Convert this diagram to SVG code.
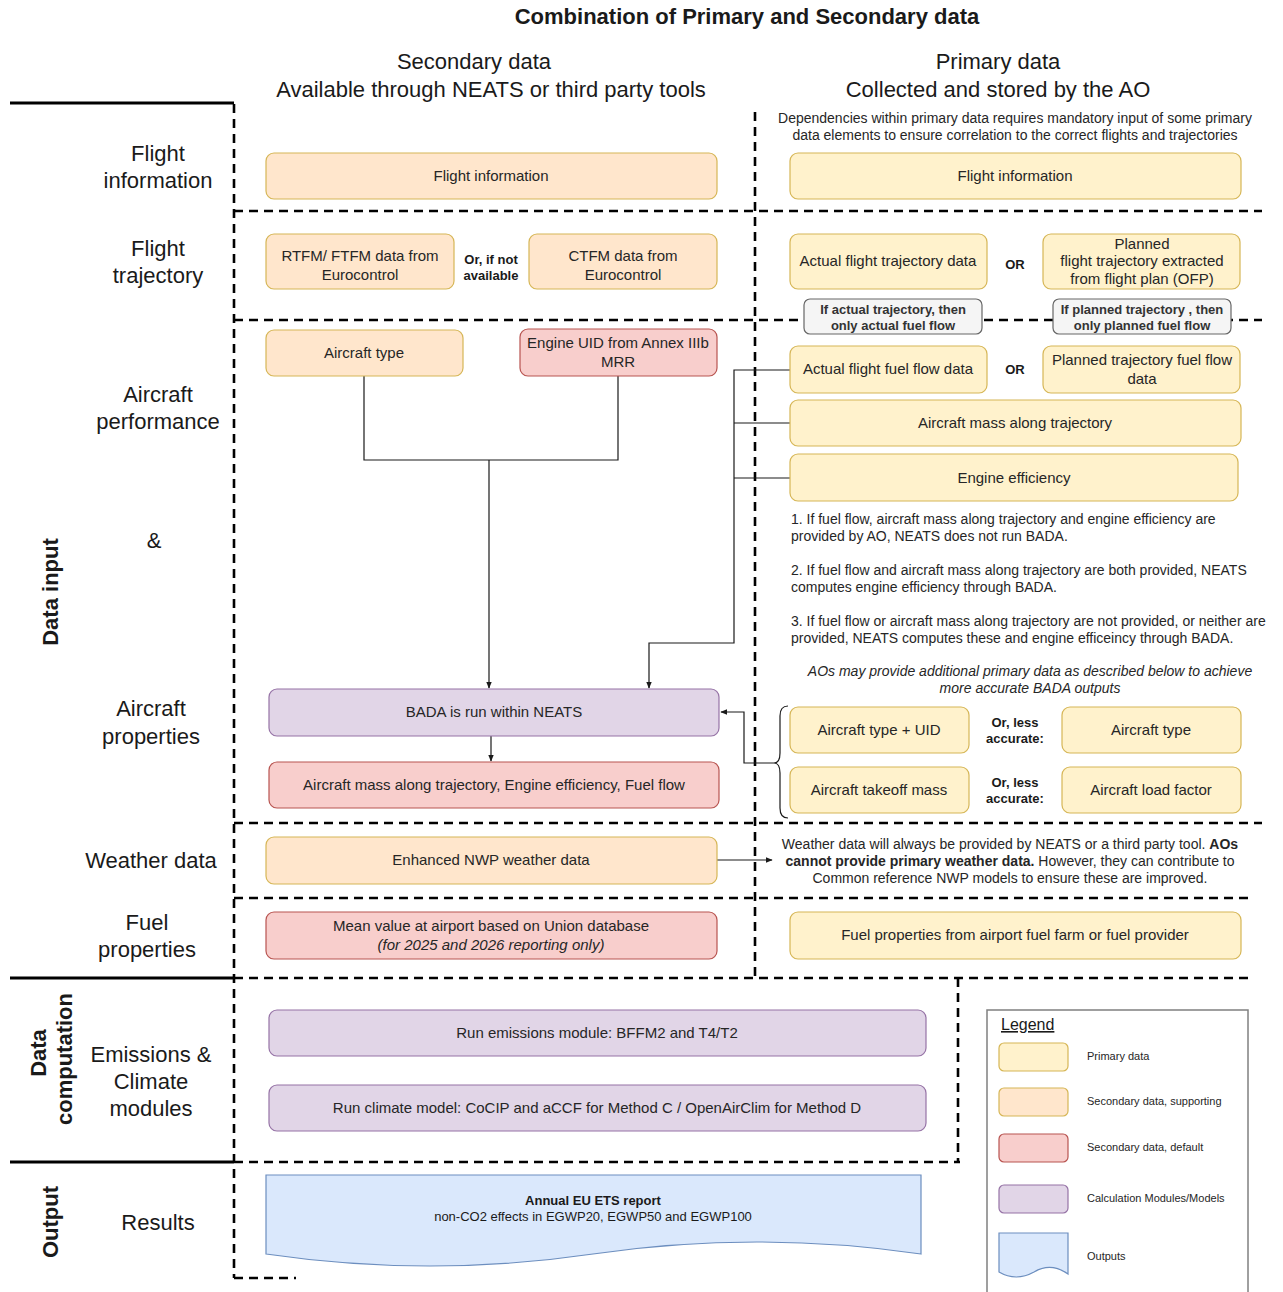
<svg xmlns="http://www.w3.org/2000/svg" width="1283" height="1292" viewBox="0 0 1283 1292">
  <style>
    text { font-family: "Liberation Sans", Arial, sans-serif; fill: #1a1a1a; }
    .title { font-size: 22px; font-weight: bold; text-anchor: middle; }
    .head { font-size: 22px; text-anchor: middle; }
    .row { font-size: 22px; text-anchor: middle; }
    .rot { font-size: 22px; font-weight: bold; text-anchor: middle; }
    .bx { font-size: 15px; text-anchor: middle; fill: #262626; }
    .note { font-size: 14px; fill: #262626; }
    .notec { font-size: 14px; fill: #262626; text-anchor: middle; }
    .sm { font-size: 13px; font-weight: bold; text-anchor: middle; }
    .gray-t { font-size: 13px; font-weight: bold; text-anchor: middle; fill: #333; }
    .lg { font-size: 11px; fill: #262626; }
    .prim { fill: #fff2cc; stroke: #d6b656; stroke-width: 1.2; }
    .supp { fill: #ffe6cc; stroke: #d6b656; stroke-width: 1.2; }
    .dflt { fill: #f8cecc; stroke: #b85450; stroke-width: 1.2; }
    .calc { fill: #e1d5e7; stroke: #9673a6; stroke-width: 1.2; }
    .outp { fill: #dae8fc; stroke: #6c8ebf; stroke-width: 1.2; }
    .gray { fill: #f5f5f5; stroke: #666666; stroke-width: 1.2; }
    .dash { stroke: #000; stroke-width: 2.6; stroke-dasharray: 9 6; fill: none; }
    .solid { stroke: #000; stroke-width: 3; fill: none; }
    .conn { stroke: #1a1a1a; stroke-width: 1.2; fill: none; }
  </style>
  <defs>
    <marker id="arr" viewBox="0 0 10 10" refX="9" refY="5" markerWidth="7" markerHeight="7" orient="auto" markerUnits="userSpaceOnUse">
      <path d="M0,1 L10,5 L0,9 Z" fill="#1a1a1a"/>
    </marker>
  </defs>

  <rect width="1283" height="1292" fill="#ffffff"/>

  <!-- headings -->
  <g id="headings">
    <text class="title" x="747" y="24">Combination of Primary and Secondary data</text>
    <text class="head" x="474" y="69">Secondary data</text>
    <text class="head" x="491" y="97">Available through NEATS or third party tools</text>
    <text class="head" x="998" y="69">Primary data</text>
    <text class="head" x="998" y="97">Collected and stored by the AO</text>
  </g>

  <!-- swimlane grid -->
  <g id="grid">
    <line class="solid" x1="10" y1="103" x2="234" y2="103"/>
    <line class="solid" x1="10" y1="978" x2="234" y2="978"/>
    <line class="solid" x1="10" y1="1162" x2="234" y2="1162"/>
    <line class="dash" x1="234" y1="104" x2="234" y2="1278"/>
    <line class="dash" x1="234" y1="1278" x2="296" y2="1278"/>
    <line class="dash" x1="755" y1="112" x2="755" y2="978"/>
    <line class="dash" x1="234" y1="211" x2="1262" y2="211"/>
    <line class="dash" x1="234" y1="320" x2="1262" y2="320"/>
    <line class="dash" x1="234" y1="823" x2="1262" y2="823"/>
    <line class="dash" x1="234" y1="898" x2="1254" y2="898"/>
    <line class="dash" x1="234" y1="978" x2="1252" y2="978"/>
    <line class="dash" x1="234" y1="1162" x2="960" y2="1162"/>
    <line class="dash" x1="958" y1="978" x2="958" y2="1162"/>
  </g>

  <!-- row labels -->
  <g id="row-labels">
    <text class="row" x="158" y="161">Flight</text>
    <text class="row" x="158" y="188">information</text>
    <text class="row" x="158" y="256">Flight</text>
    <text class="row" x="158" y="283">trajectory</text>
    <text class="row" x="158" y="402">Aircraft</text>
    <text class="row" x="158" y="429">performance</text>
    <text class="row" x="154" y="548">&amp;</text>
    <text class="row" x="151" y="716">Aircraft</text>
    <text class="row" x="151" y="744">properties</text>
    <text class="row" x="151" y="868">Weather data</text>
    <text class="row" x="147" y="930">Fuel</text>
    <text class="row" x="147" y="957">properties</text>
    <text class="row" x="151" y="1062">Emissions &amp;</text>
    <text class="row" x="151" y="1089">Climate</text>
    <text class="row" x="151" y="1116">modules</text>
    <text class="row" x="158" y="1230">Results</text>
    <text class="rot" transform="translate(58,592) rotate(-90)">Data input</text>
    <text class="rot" transform="translate(46,1053) rotate(-90)">Data</text>
    <text class="rot" transform="translate(72,1059) rotate(-90)">computation</text>
    <text class="rot" transform="translate(58,1222) rotate(-90)">Output</text>
  </g>

  <!-- connectors -->
  <g id="connectors">
    <polyline class="conn" points="364,376 364,460 618,460 618,376"/>
    <line class="conn" x1="489" y1="460" x2="489" y2="688" marker-end="url(#arr)"/>
    <line class="conn" x1="491" y1="736" x2="491" y2="761" marker-end="url(#arr)"/>
    <polyline class="conn" points="790,370 734,370 734,643 649,643 649,688" marker-end="url(#arr)"/>
    <line class="conn" x1="734" y1="423" x2="790" y2="423"/>
    <line class="conn" x1="734" y1="478" x2="790" y2="478"/>
    <path class="conn" d="M788,706 Q780,706 780,716 L780,753 Q780,763 774,763 Q780,763 780,773 L780,808 Q780,818 788,818"/>
    <polyline class="conn" points="774,763 744,763 744,712 721,712" marker-end="url(#arr)"/>
    <line class="conn" x1="717" y1="860" x2="772" y2="860" marker-end="url(#arr)"/>
  </g>

  <!-- secondary data column -->
  <g id="sec-flight-info">
    <rect class="supp" x="266" y="153" width="451" height="46" rx="8"/>
    <text class="bx" x="491" y="181">Flight information</text>
  </g>
  <g id="sec-rtfm">
    <rect class="supp" x="266" y="234" width="188" height="55" rx="8"/>
    <text class="bx" x="360" y="261">RTFM/ FTFM data from</text>
    <text class="bx" x="360" y="280">Eurocontrol</text>
  </g>
  <g id="sec-or-label">
    <text class="sm" x="491" y="264">Or, if not</text>
    <text class="sm" x="491" y="280">available</text>
  </g>
  <g id="sec-ctfm">
    <rect class="supp" x="529" y="234" width="188" height="55" rx="8"/>
    <text class="bx" x="623" y="261">CTFM data from</text>
    <text class="bx" x="623" y="280">Eurocontrol</text>
  </g>
  <g id="sec-aircraft-type">
    <rect class="supp" x="266" y="330" width="197" height="46" rx="8"/>
    <text class="bx" x="364" y="358">Aircraft type</text>
  </g>
  <g id="sec-engine-uid">
    <rect class="dflt" x="520" y="329" width="197" height="47" rx="8"/>
    <text class="bx" x="618" y="348">Engine UID from Annex IIIb</text>
    <text class="bx" x="618" y="367">MRR</text>
  </g>
  <g id="bada">
    <rect class="calc" x="269" y="689" width="450" height="47" rx="8"/>
    <text class="bx" x="494" y="717">BADA is run within NEATS</text>
  </g>
  <g id="bada-outputs">
    <rect class="dflt" x="269" y="762" width="450" height="46" rx="8"/>
    <text class="bx" x="494" y="790">Aircraft mass along trajectory, Engine efficiency, Fuel flow</text>
  </g>
  <g id="sec-weather">
    <rect class="supp" x="266" y="837" width="451" height="47" rx="8"/>
    <text class="bx" x="491" y="865">Enhanced NWP weather data</text>
  </g>
  <g id="sec-fuel">
    <rect class="dflt" x="266" y="912" width="451" height="47" rx="8"/>
    <text class="bx" x="491" y="931">Mean value at airport based on Union database</text>
    <text class="bx" x="491" y="950" font-style="italic">(for 2025 and 2026 reporting only)</text>
  </g>
  <g id="emissions-module">
    <rect class="calc" x="269" y="1010" width="657" height="46" rx="8"/>
    <text class="bx" x="597" y="1038">Run emissions module: BFFM2 and T4/T2</text>
  </g>
  <g id="climate-model">
    <rect class="calc" x="269" y="1085" width="657" height="46" rx="8"/>
    <text class="bx" x="597" y="1113">Run climate model: CoCIP and aCCF for Method C / OpenAirClim for Method D</text>
  </g>
  <g id="report">
    <path class="outp" d="M266,1175 H921 V1254 Q757,1230 593,1254 Q430,1278 266,1254 Z"/>
    <text x="593" y="1205" font-size="13" font-weight="bold" text-anchor="middle">Annual EU ETS report</text>
    <text x="593" y="1221" font-size="13" text-anchor="middle" fill="#262626">non-CO2 effects in EGWP20, EGWP50 and EGWP100</text>
  </g>

  <!-- primary data column -->
  <g id="prim-intro">
    <text class="notec" x="1015" y="123">Dependencies within primary data requires mandatory input of some primary</text>
    <text class="notec" x="1015" y="140">data elements to ensure correlation to the correct flights and trajectories</text>
  </g>
  <g id="prim-flight-info">
    <rect class="prim" x="790" y="153" width="451" height="46" rx="8"/>
    <text class="bx" x="1015" y="181">Flight information</text>
  </g>
  <g id="prim-actual-traj">
    <rect class="prim" x="790" y="234" width="197" height="55" rx="8"/>
    <text class="bx" x="888" y="266">Actual flight trajectory data</text>
  </g>
  <g id="prim-or-1">
    <text class="sm" x="1015" y="269">OR</text>
  </g>
  <g id="prim-planned-traj">
    <rect class="prim" x="1043" y="234" width="197" height="55" rx="8"/>
    <text class="bx" x="1142" y="249">Planned</text>
    <text class="bx" x="1142" y="266">flight trajectory extracted</text>
    <text class="bx" x="1142" y="284">from flight plan (OFP)</text>
  </g>
  <g id="note-actual">
    <rect class="gray" x="804" y="299" width="178" height="35" rx="6"/>
    <text class="gray-t" x="893" y="314">If actual trajectory, then</text>
    <text class="gray-t" x="893" y="330">only actual fuel flow</text>
  </g>
  <g id="note-planned">
    <rect class="gray" x="1053" y="299" width="178" height="35" rx="6"/>
    <text class="gray-t" x="1142" y="314">If planned trajectory , then</text>
    <text class="gray-t" x="1142" y="330">only planned fuel flow</text>
  </g>
  <g id="prim-actual-fuel">
    <rect class="prim" x="790" y="346" width="197" height="47" rx="8"/>
    <text class="bx" x="888" y="374">Actual flight fuel flow data</text>
  </g>
  <g id="prim-or-2">
    <text class="sm" x="1015" y="374">OR</text>
  </g>
  <g id="prim-planned-fuel">
    <rect class="prim" x="1043" y="346" width="197" height="47" rx="8"/>
    <text class="bx" x="1142" y="365">Planned trajectory fuel flow</text>
    <text class="bx" x="1142" y="384">data</text>
  </g>
  <g id="prim-mass">
    <rect class="prim" x="790" y="400" width="451" height="46" rx="8"/>
    <text class="bx" x="1015" y="428">Aircraft mass along trajectory</text>
  </g>
  <g id="prim-engine-eff">
    <rect class="prim" x="790" y="454" width="448" height="47" rx="8"/>
    <text class="bx" x="1014" y="483">Engine efficiency</text>
  </g>
  <g id="bada-rules">
    <text class="note" x="791" y="524">1. If fuel flow, aircraft mass along trajectory and engine efficiency are</text>
    <text class="note" x="791" y="541">provided by AO, NEATS does not run BADA.</text>
    <text class="note" x="791" y="575">2. If fuel flow and aircraft mass along trajectory are both provided, NEATS</text>
    <text class="note" x="791" y="592">computes engine efficiency through BADA.</text>
    <text class="note" x="791" y="626">3. If fuel flow or aircraft mass along trajectory are not provided, or neither are</text>
    <text class="note" x="791" y="643">provided, NEATS computes these and engine efficeincy through BADA.</text>
  </g>
  <g id="additional-note">
    <text class="notec" x="1030" y="676" font-style="italic">AOs may provide additional primary data as described below to achieve</text>
    <text class="notec" x="1030" y="693" font-style="italic">more accurate BADA outputs</text>
  </g>
  <g id="prim-type-uid">
    <rect class="prim" x="790" y="707" width="179" height="46" rx="8"/>
    <text class="bx" x="879" y="735">Aircraft type + UID</text>
  </g>
  <g id="less-accurate-1">
    <text class="sm" x="1015" y="727">Or, less</text>
    <text class="sm" x="1015" y="743">accurate:</text>
  </g>
  <g id="prim-type">
    <rect class="prim" x="1062" y="707" width="179" height="46" rx="8"/>
    <text class="bx" x="1151" y="735">Aircraft type</text>
  </g>
  <g id="prim-takeoff">
    <rect class="prim" x="790" y="767" width="179" height="46" rx="8"/>
    <text class="bx" x="879" y="795">Aircraft takeoff mass</text>
  </g>
  <g id="less-accurate-2">
    <text class="sm" x="1015" y="787">Or, less</text>
    <text class="sm" x="1015" y="803">accurate:</text>
  </g>
  <g id="prim-load">
    <rect class="prim" x="1062" y="767" width="179" height="46" rx="8"/>
    <text class="bx" x="1151" y="795">Aircraft load factor</text>
  </g>
  <g id="weather-note">
    <text class="notec" x="1010" y="849">Weather data will always be provided by NEATS or a third party tool. <tspan font-weight="bold">AOs</tspan></text>
    <text class="notec" x="1010" y="866"><tspan font-weight="bold">cannot provide primary weather data.</tspan> However, they can contribute to</text>
    <text class="notec" x="1010" y="883">Common reference NWP models to ensure these are improved.</text>
  </g>
  <g id="prim-fuel">
    <rect class="prim" x="790" y="912" width="451" height="47" rx="8"/>
    <text class="bx" x="1015" y="940">Fuel properties from airport fuel farm or fuel provider</text>
  </g>

  <!-- legend -->
  <g id="legend">
    <rect x="987" y="1010" width="261" height="300" fill="#ffffff" stroke="#808080" stroke-width="1.5"/>
    <text x="1001" y="1030" font-size="16" text-decoration="underline" fill="#262626">Legend</text>
    <rect class="prim" x="999" y="1043" width="69" height="28" rx="5"/>
    <text class="lg" x="1087" y="1060">Primary data</text>
    <rect class="supp" x="999" y="1088" width="69" height="28" rx="5"/>
    <text class="lg" x="1087" y="1105">Secondary data, supporting</text>
    <rect class="dflt" x="999" y="1134" width="69" height="28" rx="5"/>
    <text class="lg" x="1087" y="1151">Secondary data, default</text>
    <rect class="calc" x="999" y="1185" width="69" height="28" rx="5"/>
    <text class="lg" x="1087" y="1202">Calculation Modules/Models</text>
    <path class="outp" d="M999,1233 H1068 V1274 Q1051,1262 1034,1272 Q1016,1282 999,1272 Z"/>
    <text class="lg" x="1087" y="1260">Outputs</text>
  </g>
</svg>
